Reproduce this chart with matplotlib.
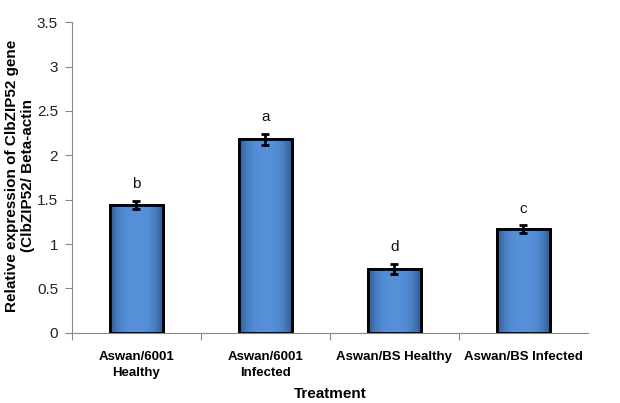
import numpy as np
import matplotlib.pyplot as plt
from matplotlib.colors import LinearSegmentedColormap

plt.rcParams['font.family'] = ['Liberation Sans', 'DejaVu Sans']

categories = ["Aswan/6001\nHealthy", "Aswan/6001\nInfected", "Aswan/BS Healthy", "Aswan/BS Infected"]
values = [1.44, 2.18, 0.72, 1.17]
errors = [0.05, 0.06, 0.06, 0.04]
letters = ["b", "a", "d", "c"]

fig = plt.figure(figsize=(6.2, 4.03), dpi=100)
ax = fig.add_axes([0.116, 0.174, 0.832, 0.771])

x = range(len(categories))
bars = ax.bar(x, values, width=0.41, color='#4F88CF', edgecolor='black', linewidth=2, zorder=2)

# horizontal shading inside each bar
shade = LinearSegmentedColormap.from_list('sh', ['#5590D8', '#2F5A90'])
grad = np.abs(np.linspace(-1, 1, 64))[None, :] ** 3
for b in bars:
    x0, y0 = b.get_x(), b.get_y()
    im = ax.imshow(grad, extent=[x0, x0 + b.get_width(), y0, y0 + b.get_height()],
                   cmap=shade, aspect='auto', zorder=2.5, interpolation='bicubic')
    im.set_clip_path(b)
    ax.add_patch(plt.Rectangle((x0, y0), b.get_width(), b.get_height(), fill=False,
                               edgecolor='black', linewidth=2, zorder=3))

ax.errorbar(list(x), values, yerr=errors, fmt='none', ecolor='black', elinewidth=2,
            capsize=3, capthick=2, zorder=4)

for i, (v, e, l) in enumerate(zip(values, errors, letters)):
    ax.text(i, v + e + 0.19, l, ha='center', va='center', fontsize=11, color='#111111')

ax.set_xlim(-0.5, 3.5)
ax.set_ylim(0, 3.5)
ax.set_yticks([0, 0.5, 1, 1.5, 2, 2.5, 3, 3.5])
ax.set_yticklabels(["0", "0.5", "1", "1.5", "2", "2.5", "3", "3.5"], fontsize=11, color='#222222')
ax.set_xticks([-0.5, 0.5, 1.5, 2.5], minor=False)
ax.set_xticklabels([])
ax.set_xticks(list(x), minor=True)
ax.set_xticklabels(categories, minor=True, fontsize=9.5, fontweight='bold', linespacing=1.45)
ax.tick_params(axis='x', which='minor', length=0, pad=13)
ax.tick_params(axis='x', which='major', length=5, color='#888888', direction='out')
ax.tick_params(axis='y', length=5, color='#888888', pad=5)

for s in ['top', 'right']:
    ax.spines[s].set_visible(False)
ax.spines['left'].set_color('#888888')
ax.spines['bottom'].set_color('#888888')

ax.set_ylabel("Relative expression of ClbZIP52 gene\n(ClbZIP52/ Beta-actin", fontsize=11,
              fontweight='bold', linespacing=1.2)
ax.yaxis.set_label_coords(-0.072, 0.505)
ax.set_xlabel("Treatment", fontsize=11, fontweight='bold')
ax.xaxis.set_label_coords(0.5, -0.175)

fig.savefig("out.png", dpi=100)
